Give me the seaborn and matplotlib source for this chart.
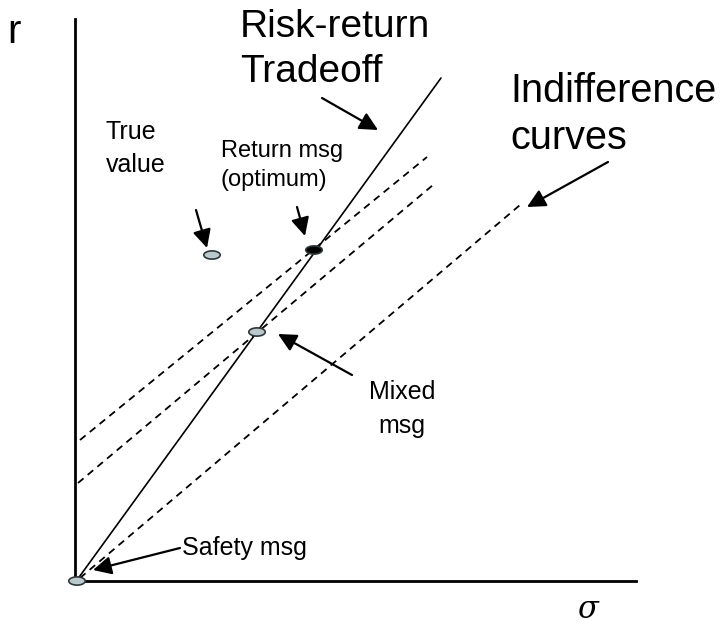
import numpy as np
import pandas as pd
import matplotlib
matplotlib.use("Agg")
import matplotlib.pyplot as plt
from matplotlib.path import Path
import seaborn as sns

# ---- data (diagram units: origin at the axes corner) ----
tradeoff_x = [2, 366]
tradeoff_y = [1, 503]

indiff_names = ["curve 1", "curve 2", "curve 3"]
indiff_x0 = [5, 3, 5]
indiff_y0 = [141, 98, 3]
indiff_x1 = [352, 358, 445]
indiff_y1 = [424, 396, 376]

point_names = ["True value", "Return msg", "Mixed msg", "Safety msg"]
point_x = [137, 239, 182, 2]
point_y = [326, 331, 249, 0]
point_fill = ["#b9c9cd", "#000000", "#b9c9cd", "#b9c9cd"]

arrow_names = ["True", "Return", "Risk", "Indiff", "Mixed", "Safety"]
arrow_x0 = [121, 222, 247, 533, 277, 105]
arrow_y0 = [371, 374, 483, 419, 206, 33]
arrow_x1 = [132, 230, 303, 452, 203, 18]
arrow_y1 = [333, 345, 451, 374, 247, 11]

sns.set_style("white")
plt.rcParams["font.family"] = ["Liberation Sans", "DejaVu Sans"]
plt.rcParams["text.color"] = "black"

fig = plt.figure(figsize=(7.23, 6.3), dpi=100)
W, H = 723, 630
ax = fig.add_axes([75 / W, (H - 581) / H, (636 - 75) / W, (581 - 19) / H])
ax.set_xlim(0, 561)
ax.set_ylim(0, 562)
ax.set_xticks([])
ax.set_yticks([])
sns.despine(ax=ax)
for s in ["left", "bottom"]:
    ax.spines[s].set_linewidth(2.0)
    ax.spines[s].set_color("black")

# risk-return tradeoff line
sns.lineplot(x=tradeoff_x, y=tradeoff_y, ax=ax, color="black", lw=1.2)

# indifference curves
for i in range(len(indiff_names)):
    sns.lineplot(x=[indiff_x0[i], indiff_x1[i]], y=[indiff_y0[i], indiff_y1[i]],
                 ax=ax, color="black", lw=1.3, linestyle=(0, (4, 3)))

# arrows
for i in range(len(arrow_names)):
    ax.annotate("", xy=(arrow_x1[i], arrow_y1[i]), xytext=(arrow_x0[i], arrow_y0[i]),
                arrowprops=dict(arrowstyle="-|>,head_length=0.5,head_width=0.25",
                                color="black", lw=1.6,
                                mutation_scale=22, shrinkA=0, shrinkB=0),
                annotation_clip=False)

# points as ellipses
t = np.linspace(0, 2 * np.pi, 60)
ell = Path(np.column_stack([np.cos(t), 0.5 * np.sin(t)]), closed=True)
df = pd.DataFrame({"x": point_x, "y": point_y, "name": point_names})
sns.scatterplot(data=df, x="x", y="y", hue="name", palette=dict(zip(point_names, point_fill)),
                marker=ell, s=140, edgecolor="#2e3838", linewidth=1.2, ax=ax,
                legend=False, zorder=5, clip_on=False)
ax.set_xlabel("")
ax.set_ylabel("")

# texts
ax.text(-68, 538, "r", fontsize=29, va="baseline", ha="left")
ax.text(513, -29, "σ", fontsize=22, va="center", ha="center",
        family=["DejaVu Serif"], style="italic")
ax.text(165, 572, "Risk-return\nTradeoff", fontsize=28, va="top", ha="left", linespacing=1.33)
ax.text(435, 509, "Indifference\ncurves", fontsize=28.5, va="top", ha="left", linespacing=1.3)
ax.text(31, 461, "True\nvalue", fontsize=18, va="top", ha="left", linespacing=1.45)
ax.text(146, 441, "Return msg\n(optimum)", fontsize=17, va="top", ha="left", linespacing=1.4)
ax.text(327, 201, "Mixed\nmsg", fontsize=18, va="top", ha="center", linespacing=1.55)
ax.text(107, 45, "Safety msg", fontsize=18, va="top", ha="left")

fig.savefig("out.png", dpi=100)
